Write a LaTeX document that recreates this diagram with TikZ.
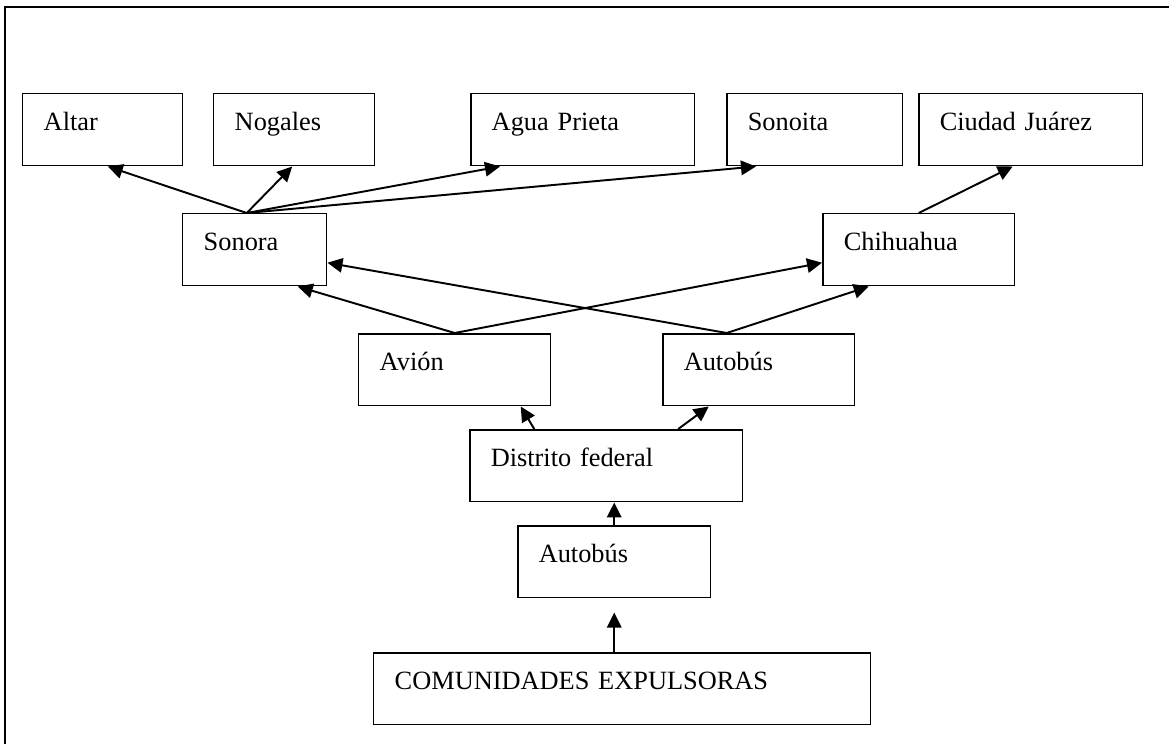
\documentclass[tikz,border=0pt]{standalone}
\usepackage{fontspec}
\setmainfont{Liberation Serif}
\usetikzlibrary{calc,arrows.meta}

\tikzset{
  place/.style={draw, line width=0.85pt, anchor=north west, inner xsep=0.42cm, inner ysep=0pt,
    text height=0.74cm, text depth=0.70cm, align=left, font=\fontsize{15}{18}\selectfont},
  route/.style={-{Triangle[length=3mm,width=2.9mm]}, line width=1.1pt}
}

\begin{document}
\begin{tikzpicture}[x=0.02cm, y=-0.02cm]
\useasboundingbox (0,0) rectangle (1169,744);

% frame (only top and left edges show)
\draw[line width=1.2pt] (5,744) -- (5,7) -- (1169,7);

% border towns
\node[place, text width=2.36cm] (altar)   at (22,93)  {Altar};
\node[place, text width=2.38cm] (nogales) at (213,93) {Nogales};
\node[place, text width=3.64cm] (agua)    at (470,93) {Agua Prieta};
\node[place, text width=2.68cm] (sonoita) at (726,93) {Sonoita};
\node[place, text width=3.64cm] (juarez)  at (918,93) {Ciudad Juárez};

% states
\node[place, text width=2.04cm] (sonora)    at (182,213) {Sonora};
\node[place, text width=3.0cm]  (chihuahua) at (822,213) {Chihuahua};

% means of transport
\node[place, text width=3.0cm] (avion)    at (358,333) {Avión};
\node[place, text width=3.0cm] (autobusA) at (662,333) {Autobús};

\node[place, text width=4.62cm] (distrito) at (469,429) {Distrito federal};
\node[place, text width=3.02cm] (autobusB) at (517,525) {Autobús};
\node[place, text width=9.1cm]  (origen)   at (373,652) {COMUNIDADES EXPULSORAS};

% Sonora to the towns
\draw[route] ($(sonora.north)+(-8,0)$) -- ($(altar.south)+(5,0)$);
\draw[route] ($(sonora.north)+(-8,0)$) -- ($(nogales.south)+(-2,0)$);
\draw[route] ($(sonora.north)+(-8,0)$) -- ($(agua.south west)+(30,0)$);
\draw[route] ($(sonora.north)+(-8,0)$) -- ($(sonoita.south west)+(30,0)$);

% Chihuahua to Ciudad Juarez
\draw[route] (chihuahua.north) -- ($(juarez.south)+(-18,0)$);

% plane and bus to the states
\draw[route] (avion.north) -- ($(sonora.south)+(43,0)$);
\draw[route] (avion.north) -- ($(chihuahua.west)+(0,13)$);
\draw[route] ($(autobusA.north)+(-32,0)$) -- ($(sonora.east)+(0,13)$);
\draw[route] ($(autobusA.north)+(-32,0)$) -- ($(chihuahua.south)+(-50,0)$);

% from the capital
\draw[route] ($(distrito.north)+(-72,0)$) -- ($(avion.south)+(66,0)$);
\draw[route] ($(distrito.north)+(72,0)$) -- ($(autobusA.south)+(-50,0)$);
\draw[route] (autobusB.north) -- (autobusB.north |- distrito.south);
\draw[route, shorten >=8] (origen.north -| autobusB.south) -- (autobusB.south);

\end{tikzpicture}
\end{document}
